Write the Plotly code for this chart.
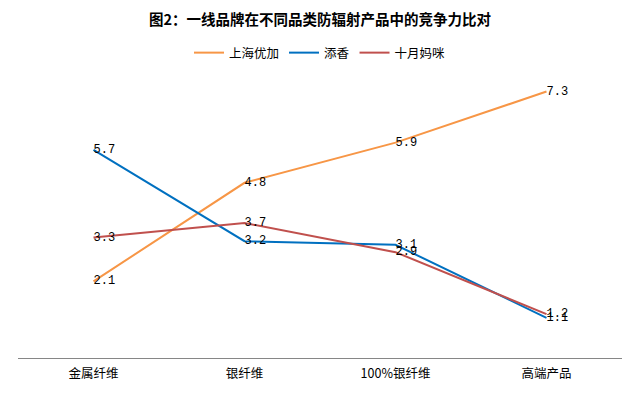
import plotly.graph_objects as go

categories = ["金属纤维", "银纤维", "100%银纤维", "高端产品"]
series_names = ["上海优加", "添香", "十月妈咪"]
youjia = [2.1, 4.8, 5.9, 7.3]
tianxiang = [5.7, 3.2, 3.1, 1.1]
shiyue = [3.3, 3.7, 2.9, 1.2]
colors = ["#F79646", "#0070C0", "#C0504D"]

fig = go.Figure()
for name, vals, col in zip(series_names, [youjia, tianxiang, shiyue], colors):
    fig.add_trace(go.Scatter(
        x=categories, y=vals, name=name,
        mode="lines+text",
        line=dict(color=col, width=2),
        text=[f"{v:.1f}" for v in vals],
        textposition="middle right",
        textfont=dict(family="Liberation Mono", size=12, color="#000000"),
        cliponaxis=False,
    ))

# the page body adds an 8px offset, so the figure is laid out 8px up/left
fig.update_layout(
    width=640, height=396,
    margin=dict(l=10, r=26, t=58, b=46, autoexpand=False),
    paper_bgcolor="white", plot_bgcolor="white",
    title=dict(text="<b>图2：一线品牌在不同品类防辐射产品中的竞争力比对</b>",
               x=0.5, xref="paper", xanchor="center", y=0.9697, yanchor="middle",
               font=dict(family="Noto Sans CJK SC", size=14.5, color="#000000")),
    legend=dict(orientation="h", x=0.5, xanchor="center", y=1.0445, yanchor="middle",
                font=dict(family="Noto Sans CJK SC", size=12.5, color="#000000"),
                itemwidth=30, tracegroupgap=0),
    showlegend=True,
    xaxis=dict(type="category", range=[-0.5, 3.5], showline=True, linecolor="#868686",
               linewidth=1, showgrid=False, zeroline=False, ticks="", automargin=False,
               ticklabelstandoff=4,
               tickfont=dict(family="Noto Sans CJK SC", size=12.5, color="#000000")),
    yaxis=dict(range=[0, 8], visible=False, showgrid=False, zeroline=False, automargin=False),
)

fig.write_html("out.html")
